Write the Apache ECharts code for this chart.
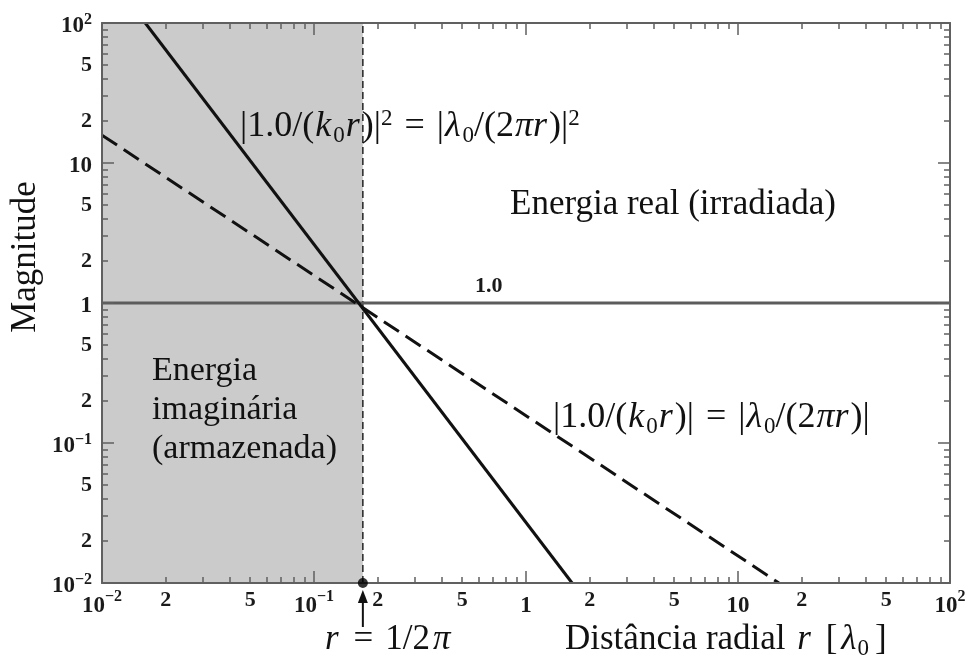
<!DOCTYPE html>
<html><head><meta charset="utf-8">
<script src="https://cdn.jsdelivr.net/npm/echarts@6/dist/echarts.min.js"></script>
<style>html,body{margin:0;padding:0;background:#fff}#c{width:971px;height:663px}</style>
</head><body><div id="c"></div>
<script>
// ---- data ----
const tickLabelValues = [0.01, 0.02, 0.05, 0.1, 0.2, 0.5, 1, 2, 5, 10, 20, 50, 100];
const decadeTicks = [0.01, 0.1, 1, 10, 100];
const minorTickValues = [0.02, 0.03, 0.04, 0.05, 0.06, 0.07, 0.08, 0.09,
  0.2, 0.3, 0.4, 0.5, 0.6, 0.7, 0.8, 0.9,
  2, 3, 4, 5, 6, 7, 8, 9,
  20, 30, 40, 50, 60, 70, 80, 90];
const boundaryR = 0.17;              // r = 1/2π as drawn
const boundaryMag = [0.01, 100];
const solidR = [0.016, 1.65];        // |1/(k0 r)|^2
const solidMag = [100, 0.01];
const dashedR = [0.01, 15.6];        // |1/(k0 r)|
const dashedMag = [15.8, 0.01];
const unityR = [0.01, 100];
const unityMag = [1, 1];
const axisMin = 0.01, axisMax = 100;

const SERIF = 'Liberation Serif';
const INK = '#111';
const FRAME = '#606060';

function fmt(v) {
  const lg = Math.log10(v);
  const r = Math.round(lg);
  if (Math.abs(lg - r) < 1e-6) {
    if (r === 0) return '{d|1}';
    if (r === 1) return '{d|10}';
    return '{d|10}{e|' + (r < 0 ? '\u2212' : '') + Math.abs(r) + '}';
  }
  const m = Math.round(v / Math.pow(10, Math.floor(lg + 1e-9)));
  return '{m|' + m + '}';
}
function rich(padTop) {
  return {
    d: {fontFamily: SERIF, fontWeight: 'bold', fontSize: 23, color: '#1a1a1a', lineHeight: 22, padding: [padTop, 0, 0, 0]},
    e: {fontFamily: SERIF, fontWeight: 'bold', fontSize: 16, color: '#1a1a1a', lineHeight: 16, verticalAlign: 'top'},
    m: {fontFamily: SERIF, fontWeight: 'bold', fontSize: 22, color: '#1a1a1a', lineHeight: 22}
  };
}
function axis(dim, pos, ticks, len, showLine, withLabels) {
  const a = {
    type: 'log', logBase: 10, min: axisMin, max: axisMax, position: pos, z: 6,
    axisLine: {show: showLine, onZero: false, lineStyle: {color: FRAME, width: 2}},
    axisTick: {show: true, inside: true, length: len, customValues: ticks, lineStyle: {color: FRAME, width: 1.5}},
    splitLine: {show: false}, minorTick: {show: false}, minorSplitLine: {show: false},
    axisLabel: {show: false}
  };
  if (withLabels) {
    a.axisLabel = {show: true, customValues: tickLabelValues, formatter: fmt,
      margin: dim === 'x' ? 6 : 10, rich: rich(dim === 'x' ? 12 : 6)};
  }
  return a;
}

const chart = echarts.init(document.getElementById('c'), null, {renderer: 'canvas'});
chart.setOption({
  animation: false,
  backgroundColor: '#fff',
  grid: {left: 102, right: 21, top: 23, bottom: 80, containLabel: false, outerBoundsMode: 'none'},
  xAxis: [
    axis('x', 'bottom', decadeTicks, 12, true, true),
    axis('x', 'bottom', minorTickValues, 6, false, false),
    axis('x', 'top', decadeTicks, 12, true, false),
    axis('x', 'top', minorTickValues, 6, false, false)
  ],
  yAxis: [
    axis('y', 'left', decadeTicks, 12, true, true),
    axis('y', 'left', minorTickValues, 6, false, false),
    axis('y', 'right', decadeTicks, 12, true, false),
    axis('y', 'right', minorTickValues, 6, false, false)
  ],
  series: [
    {type: 'line', data: [], z: 1, silent: true,
      markArea: {silent: true, itemStyle: {color: '#cbcbcb'},
        data: [[{xAxis: unityR[0]}, {xAxis: boundaryR}]]}},
    {type: 'line', symbol: 'none', silent: true, z: 3,
      data: boundaryMag.map(m => [boundaryR, m]),
      lineStyle: {color: '#222', width: 1.5, type: [7, 4]}},
    {type: 'line', symbol: 'none', silent: true, z: 3,
      data: unityR.map((r, i) => [r, unityMag[i]]),
      lineStyle: {color: '#5c5c5c', width: 3}},
    {type: 'line', symbol: 'none', silent: true, z: 4,
      data: solidR.map((r, i) => [r, solidMag[i]]),
      lineStyle: {color: INK, width: 3}},
    {type: 'line', symbol: 'none', silent: true, z: 4,
      data: dashedR.map((r, i) => [r, dashedMag[i]]),
      lineStyle: {color: INK, width: 3, type: [18, 8]}},
    {type: 'scatter', silent: true, z: 10, clip: false, symbol: 'circle', symbolSize: 10,
      itemStyle: {color: '#000'}, data: [[boundaryR, boundaryMag[0]]]}
  ]
});

const bx = chart.convertToPixel({xAxisIndex: 0}, boundaryR);
const by = chart.convertToPixel({yAxisIndex: 0}, boundaryMag[0]);

const mathRich = {
  n: {fontFamily: SERIF, fontSize: 36, fill: INK, lineHeight: 40},
  i: {fontFamily: SERIF, fontSize: 36, fontStyle: 'italic', fill: INK, lineHeight: 40, padding: [0, 2, 0, 1]},
  eq: {fontFamily: SERIF, fontSize: 36, fill: INK, lineHeight: 40, padding: [0, 12, 0, 12]},
  sub: {fontFamily: SERIF, fontSize: 23, fill: INK, verticalAlign: 'bottom'},
  sup: {fontFamily: SERIF, fontSize: 23, fill: INK, verticalAlign: 'top'},
  t: {fontFamily: SERIF, fontSize: 35, fill: INK, lineHeight: 40},
  ti: {fontFamily: SERIF, fontSize: 35, fontStyle: 'italic', fill: INK, lineHeight: 40, padding: [0, 3, 0, 3]},
  tl: {fontFamily: SERIF, fontSize: 35, fontStyle: 'italic', fill: INK, lineHeight: 40, padding: [0, 1, 0, 1]},
  tb: {fontFamily: SERIF, fontSize: 35, fill: INK, lineHeight: 40, padding: [0, 3, 0, 3]},
  teq: {fontFamily: SERIF, fontSize: 35, fill: INK, lineHeight: 40, padding: [0, 12, 0, 12]},
  tsub: {fontFamily: SERIF, fontSize: 23, fill: INK, verticalAlign: 'bottom', padding: [0, 3, 0, 0]}
};
function txt(x, y, text, opts) {
  return Object.assign({type: 'text', x: x, y: y, z: 20, silent: true,
    style: Object.assign({text: text, fontFamily: SERIF, fontSize: 35, fill: INK,
      align: 'left', verticalAlign: 'middle', rich: mathRich}, (opts && opts.style) || {})},
    (opts && opts.el) || {});
}

chart.setOption({
  graphic: [
    txt(240, 127, '{n||1.0/(}{i|k}{sub|0}{i|r}{n|)|}{sup|2}{eq|=}{n||}{i|λ}{sub|0}{n|/(2}{i|πr}{n|)|}{sup|2}'),
    txt(553, 418, '{n||1.0/(}{i|k}{sub|0}{i|r}{n|)|}{eq|=}{n||}{i|λ}{sub|0}{n|/(2}{i|πr}{n|)|}'),
    txt(510, 205, 'Energia real (irradiada)'),
    txt(152, 410, 'Energia\nimaginária\n(armazenada)', {style: {fontSize: 34, lineHeight: 39}}),
    txt(475, 286, '1.0', {style: {fontSize: 22, fontWeight: 'bold', fill: '#1a1a1a'}}),
    txt(565, 640, '{t|Distância radial }{ti|r}{t| }{tb|[}{tl|λ}{tsub|0}{tb|]}'),
    txt(322, 640, '{ti|r}{teq|=}{t|1/2}{ti|π}'),
    txt(26, 257, 'Magnitude', {style: {align: 'center'}, el: {rotation: Math.PI / 2}}),
    {type: 'line', silent: true, z: 20,
      shape: {x1: bx, y1: by + 44, x2: bx, y2: by + 18},
      style: {stroke: INK, lineWidth: 2}},
    {type: 'polygon', silent: true, z: 20,
      shape: {points: [[bx, by + 7], [bx - 5, by + 20], [bx + 5, by + 20]]},
      style: {fill: INK}}
  ]
});
</script>
</body></html>
